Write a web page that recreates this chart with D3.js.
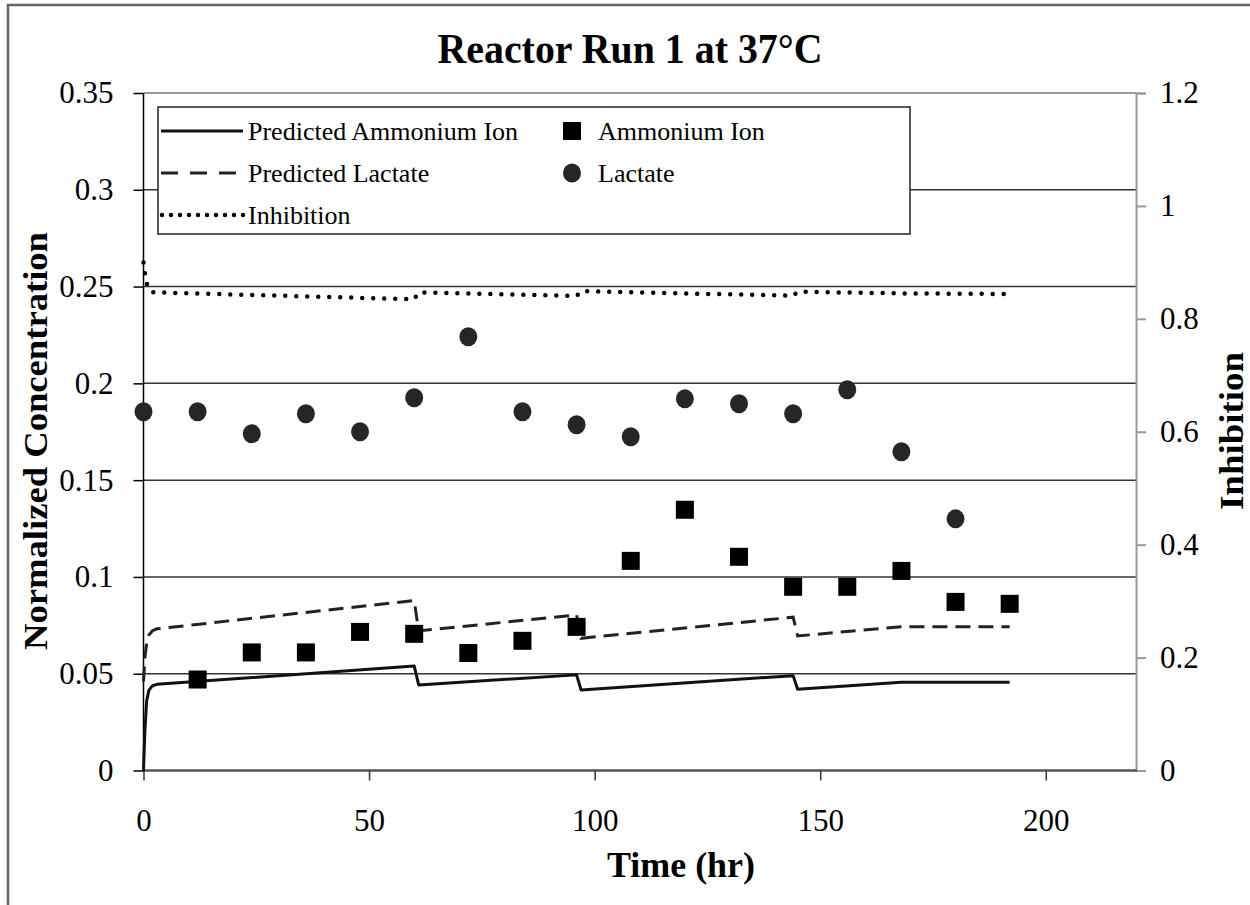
<!DOCTYPE html>
<html>
  <head>
    <meta charset="utf-8">
    <script src="https://d3js.org/d3.v7.min.js"></script>
    <style>
      body { margin: 0; background: #fff; }
      text { font-family: "Liberation Serif", "Times New Roman", serif; fill: #000; }
    </style>
  </head>
  <body>
    <div id="chart"></div>
    <script>
      // measured data (time in hr)
      const ammoniumTime = [12, 24, 36, 48, 60, 72, 84, 96, 108, 120, 132, 144, 156, 168, 180, 192];
      const ammoniumVal = [0.047, 0.061, 0.061, 0.0716, 0.0706, 0.0607, 0.067, 0.0742, 0.1083, 0.1347, 0.1104, 0.0949, 0.0949, 0.1031, 0.0871, 0.0861];
      const lactateTime = [0, 12, 24, 36, 48, 60, 72, 84, 96, 108, 120, 132, 144, 156, 168, 180];
      const lactateVal = [0.1853, 0.1853, 0.174, 0.1843, 0.175, 0.1926, 0.2241, 0.1853, 0.1786, 0.1724, 0.192, 0.1895, 0.1843, 0.1967, 0.1647, 0.13];

      // model curves
      const predTime = [0, 0.3, 0.7, 1.2, 2, 3, 60, 61, 96, 97, 144, 145, 168, 192];
      const predAmmonium = [0, 0.02, 0.036, 0.0415, 0.0438, 0.0445, 0.054, 0.0442, 0.0494, 0.0416, 0.049, 0.042, 0.0456, 0.0456];
      const predLactate = [0.046, 0.058, 0.066, 0.070, 0.0722, 0.0732, 0.0878, 0.0721, 0.0804, 0.0683, 0.0792, 0.0695, 0.0743, 0.0743];
      const inhibTime = [0, 0.5, 1, 2, 60, 61, 96, 97, 144, 145, 168, 192];
      const inhibVal = [0.9, 0.87, 0.855, 0.847, 0.8346, 0.847, 0.8404, 0.849, 0.841, 0.848, 0.845, 0.844];

      const xTicks = [0, 50, 100, 150, 200];
      const yLeftTicks = [0, 0.05, 0.1, 0.15, 0.2, 0.25, 0.3, 0.35];
      const yRightTicks = [0, 0.2, 0.4, 0.6, 0.8, 1, 1.2];

      const width = 1250, height = 905;
      const serif = "Liberation Serif, Times New Roman, serif";
      const svg = d3.select("#chart").append("svg")
        .attr("width", width)
        .attr("height", height);

      // outer frame
      svg.append("rect")
        .attr("x", 8).attr("y", 5)
        .attr("width", 1270).attr("height", 920)
        .attr("fill", "none")
        .attr("stroke", "#666")
        .attr("stroke-width", 2.5);

      const x = d3.scaleLinear().domain([0, 220]).range([143.5, 1136]);
      const y = d3.scaleLinear().domain([0, 0.35]).range([770.5, 93]);
      const y2 = d3.scaleLinear().domain([0, 1.2]).range([770.5, 93]);

      // gridlines
      svg.append("g").selectAll("line")
        .data(yLeftTicks.filter(d => d > 0 && d < 0.35))
        .join("line")
          .attr("x1", x(0)).attr("x2", x(220))
          .attr("y1", d => y(d)).attr("y2", d => y(d))
          .attr("stroke", "#333")
          .attr("stroke-width", 1.5);

      // top border of plot area
      svg.append("line")
        .attr("x1", x(0)).attr("x2", x(220))
        .attr("y1", y(0.35)).attr("y2", y(0.35))
        .attr("stroke", "#999").attr("stroke-width", 2);

      // right axis
      const rightAxis = svg.append("g")
        .attr("transform", `translate(${x(220)},0)`)
        .call(d3.axisRight(y2).tickValues(yRightTicks).tickSize(10).tickPadding(14)
          .tickFormat(d => d3.format("")(d)));
      rightAxis.selectAll("path, line").attr("stroke", "#999").attr("stroke-width", 2);
      rightAxis.selectAll("text").style("font-size", "31px").style("font-family", serif);

      // bottom axis
      const bottomAxis = svg.append("g")
        .attr("transform", `translate(0,${y(0)})`)
        .call(d3.axisBottom(x).tickValues(xTicks).tickSize(10).tickPadding(28));
      bottomAxis.select("path").attr("stroke", "#555").attr("stroke-width", 2.5)
        .attr("d", `M${x(0)},0H${x(220) + 1}`);
      bottomAxis.selectAll("line").attr("stroke", "#333").attr("stroke-width", 1.5);
      bottomAxis.selectAll("text").style("font-size", "31px").style("font-family", serif);

      // left axis
      const leftAxis = svg.append("g")
        .attr("transform", `translate(${x(0)},0)`)
        .call(d3.axisLeft(y).tickValues(yLeftTicks).tickSize(10).tickPadding(20)
          .tickFormat(d => d3.format("")(+d.toFixed(2))));
      leftAxis.select("path").attr("stroke", "#000").attr("stroke-width", 1.5)
        .attr("d", `M0,${y(0) + 1}V${y(0.35)}`);
      leftAxis.selectAll("line").attr("stroke", "#000").attr("stroke-width", 1.5);
      leftAxis.selectAll("text").style("font-size", "31px").style("font-family", serif);

      // lines
      const lineL = (ts, vs) => d3.line().x((d, i) => x(ts[i])).y(d => y(d))(vs);
      const lineR = (ts, vs) => d3.line().x((d, i) => x(ts[i])).y(d => y2(d))(vs);

      svg.append("path")
        .attr("d", lineL(predTime, predAmmonium))
        .attr("fill", "none").attr("stroke", "#111").attr("stroke-width", 3)
        .attr("stroke-linejoin", "round");
      svg.append("path")
        .attr("d", lineL(predTime, predLactate))
        .attr("fill", "none").attr("stroke", "#222").attr("stroke-width", 3)
        .attr("stroke-dasharray", "15,8");
      svg.append("path")
        .attr("d", lineR(inhibTime, inhibVal))
        .attr("fill", "none").attr("stroke", "#000").attr("stroke-width", 4.5)
        .attr("stroke-linecap", "round")
        .attr("stroke-dasharray", "0,11");

      // markers
      svg.append("g").selectAll("rect")
        .data(ammoniumVal)
        .join("rect")
          .attr("x", (d, i) => x(ammoniumTime[i]) - 9)
          .attr("y", d => y(d) - 9)
          .attr("width", 18).attr("height", 18)
          .attr("fill", "#000");
      svg.append("g").selectAll("ellipse")
        .data(lactateVal)
        .join("ellipse")
          .attr("cx", (d, i) => x(lactateTime[i]))
          .attr("cy", d => y(d))
          .attr("rx", 9).attr("ry", 9.5)
          .attr("fill", "#262626");

      // legend
      const lg = svg.append("g");
      lg.append("rect")
        .attr("x", 158).attr("y", 107)
        .attr("width", 752).attr("height", 127)
        .attr("fill", "#fff").attr("stroke", "#222").attr("stroke-width", 1.5);
      const rows = [131, 173, 215];
      lg.append("line").attr("x1", 161).attr("x2", 243).attr("y1", rows[0]).attr("y2", rows[0])
        .attr("stroke", "#111").attr("stroke-width", 3);
      lg.append("line").attr("x1", 161).attr("x2", 245).attr("y1", rows[1]).attr("y2", rows[1])
        .attr("stroke", "#222").attr("stroke-width", 3).attr("stroke-dasharray", "17,12");
      lg.append("line").attr("x1", 162).attr("x2", 244).attr("y1", rows[2]).attr("y2", rows[2])
        .attr("stroke", "#000").attr("stroke-width", 4.5).attr("stroke-linecap", "round")
        .attr("stroke-dasharray", "0,9");
      lg.append("rect").attr("x", 563).attr("y", rows[0] - 9).attr("width", 18).attr("height", 18)
        .attr("fill", "#000");
      lg.append("ellipse").attr("cx", 572).attr("cy", rows[1]).attr("rx", 9).attr("ry", 9.5)
        .attr("fill", "#262626");
      const legendText = [
        ["Predicted Ammonium Ion", 248, rows[0]],
        ["Predicted Lactate", 248, rows[1]],
        ["Inhibition", 248, rows[2]],
        ["Ammonium Ion", 598, rows[0]],
        ["Lactate", 598, rows[1]]
      ];
      lg.selectAll("text.leg")
        .data(legendText)
        .join("text")
          .attr("class", "leg")
          .attr("x", d => d[1]).attr("y", d => d[2])
          .attr("dy", "0.35em")
          .style("font-size", "26px")
          .text(d => d[0]);

      // titles
      svg.append("text")
        .attr("x", 630).attr("y", 63)
        .attr("text-anchor", "middle")
        .attr("textLength", 385).attr("lengthAdjust", "spacingAndGlyphs")
        .style("font-size", "42px").style("font-weight", "bold")
        .text("Reactor Run 1 at 37°C");
      svg.append("text")
        .attr("x", 681).attr("y", 877)
        .attr("text-anchor", "middle")
        .attr("textLength", 148).attr("lengthAdjust", "spacingAndGlyphs")
        .style("font-size", "35px").style("font-weight", "bold")
        .text("Time (hr)");
      svg.append("text")
        .attr("transform", "translate(47,441) rotate(-90)")
        .attr("text-anchor", "middle")
        .attr("textLength", 418).attr("lengthAdjust", "spacingAndGlyphs")
        .style("font-size", "34px").style("font-weight", "bold")
        .text("Normalized Concentration");
      svg.append("text")
        .attr("transform", "translate(1243,431) rotate(-90)")
        .attr("text-anchor", "middle")
        .attr("textLength", 158).attr("lengthAdjust", "spacingAndGlyphs")
        .style("font-size", "34px").style("font-weight", "bold")
        .text("Inhibition");
    </script>
  </body>
</html>
